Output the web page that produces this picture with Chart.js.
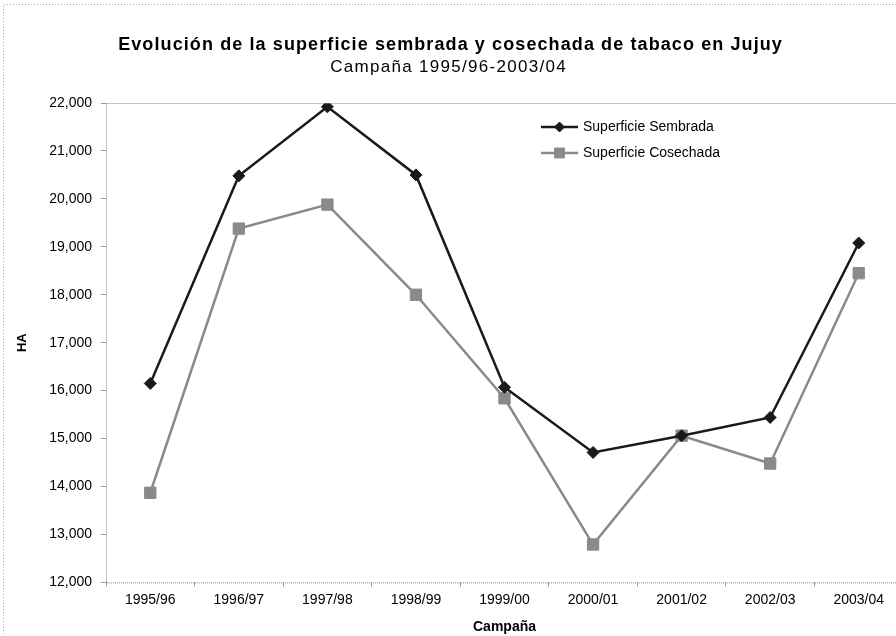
<!DOCTYPE html>
<html>
<head>
<meta charset="utf-8">
<script src="https://cdn.jsdelivr.net/npm/chart.js@4.4.1/dist/chart.umd.min.js"></script>
<style>
  html, body { margin: 0; padding: 0; background: #fff; overflow: hidden; width: 896px; height: 636px; }
  #wrap { position: absolute; left: 0; top: 0; width: 912px; height: 636px; }
</style>
</head>
<body>
<div id="wrap"><canvas id="c" width="912" height="636"></canvas></div>
<script>
const categories = ["1995/96","1996/97","1997/98","1998/99","1999/00","2000/01","2001/02","2002/03","2003/04"];
const sembrada  = [16150, 20480, 21920, 20500, 16070, 14710, 15060, 15440, 19080];
const cosechada = [13870, 19380, 19880, 18000, 15840, 12790, 15060, 14480, 18450];
const yTicks = [12000, 13000, 14000, 15000, 16000, 17000, 18000, 19000, 20000, 21000, 22000];
const titleText = 'Evolución de la superficie sembrada y cosechada de tabaco en Jujuy';
const subtitleText = 'Campaña 1995/96-2003/04';

const FONT = "'Liberation Sans', Arial, sans-serif";

function spacedText(ctx, text, cx, cy, spacing) {
  // draw centred text with extra letter spacing
  if ('letterSpacing' in ctx) {
    ctx.letterSpacing = spacing + 'px';
    const w = ctx.measureText(text).width - spacing;
    ctx.textAlign = 'left';
    ctx.fillText(text, cx - w / 2, cy);
    ctx.letterSpacing = '0px';
  } else {
    ctx.textAlign = 'center';
    ctx.fillText(text, cx, cy);
  }
}

const framePlugin = {
  id: 'frame',
  beforeDraw(chart) {
    const ctx = chart.ctx;
    ctx.save();
    ctx.fillStyle = '#fff';
    ctx.fillRect(0, 0, chart.width, chart.height);
    ctx.strokeStyle = '#aaa';
    ctx.lineWidth = 1;
    ctx.setLineDash([1, 2]);
    ctx.beginPath();
    ctx.moveTo(3.5, 640); ctx.lineTo(3.5, 4.5); ctx.lineTo(chart.width, 4.5);
    ctx.stroke();
    ctx.restore();
  },
  afterDatasetsDraw(chart) {
    const ctx = chart.ctx;
    const a = chart.chartArea;
    ctx.save();
    ctx.strokeStyle = '#888';
    ctx.lineWidth = 1;
    ctx.setLineDash([1, 1]);
    ctx.strokeRect(Math.round(a.left) + 0.5, Math.round(a.top) + 0.5, a.right - a.left, a.bottom - a.top);
    ctx.restore();
    // titles
    ctx.save();
    ctx.fillStyle = '#000';
    ctx.textBaseline = 'middle';
    ctx.font = "bold 18px " + FONT;
    spacedText(ctx, titleText, 450, 45, 1.1);
    ctx.font = "17px " + FONT;
    spacedText(ctx, subtitleText, 448, 67, 1.3);
    ctx.restore();
    // legend
    const items = chart.data.datasets;
    ctx.save();
    ctx.font = "14px " + FONT;
    ctx.textBaseline = 'middle';
    items.forEach((ds, i) => {
      const y = 127 + i * 26;
      const x0 = 541, x1 = 578, xm = (x0 + x1) / 2;
      ctx.strokeStyle = ds.borderColor;
      ctx.lineWidth = ds.borderWidth;
      ctx.beginPath(); ctx.moveTo(x0, y); ctx.lineTo(x1, y); ctx.stroke();
      ctx.fillStyle = ds.pointBackgroundColor;
      ctx.strokeStyle = ds.pointBorderColor;
      ctx.lineWidth = 1;
      Chart.helpers.drawPoint(ctx, {pointStyle: ds.pointStyle, radius: ds.pointRadius - 1, borderWidth: 1}, xm, y);
      ctx.fillStyle = '#000';
      ctx.textAlign = 'left';
      ctx.fillText(ds.label, 583, y);
    });
    ctx.restore();
  }
};

new Chart(document.getElementById('c'), {
  type: 'line',
  data: {
    labels: categories,
    datasets: [
      {
        label: 'Superficie Sembrada',
        data: sembrada,
        borderColor: '#1a1a1a',
        backgroundColor: '#1a1a1a',
        pointBackgroundColor: '#1a1a1a',
        pointBorderColor: '#1a1a1a',
        borderWidth: 2.5,
        pointStyle: 'rectRot',
        pointRadius: 6,
        pointBorderWidth: 1,
        tension: 0
      },
      {
        label: 'Superficie Cosechada',
        data: cosechada,
        borderColor: '#8a8a8a',
        backgroundColor: '#8a8a8a',
        pointBackgroundColor: '#8a8a8a',
        pointBorderColor: '#8a8a8a',
        borderWidth: 2.5,
        pointStyle: 'rect',
        pointRadius: 8,
        pointBorderWidth: 1,
        tension: 0
      }
    ]
  },
  options: {
    responsive: false,
    animation: false,
    devicePixelRatio: 1,
    layout: { padding: { left: 0, right: 2, top: 103, bottom: 0 } },
    plugins: {
      legend: { display: false },
      tooltip: { enabled: false },
      title: { display: false },
      subtitle: { display: false }
    },
    scales: {
      x: {
        type: 'category',
        offset: true,
        grid: { display: true, drawOnChartArea: false, drawTicks: true, tickLength: 4, offset: true, color: '#999' },
        border: { display: false },
        ticks: { color: '#000', font: { family: FONT, size: 14 }, padding: 5, maxRotation: 0, autoSkip: false },
        title: { display: true, text: 'Campaña', color: '#000', font: { family: FONT, size: 14, weight: 'bold' }, padding: { top: 6, bottom: 0 } }
      },
      y: {
        min: 12000,
        max: 22000,
        afterBuildTicks(scale) { scale.ticks = yTicks.map(v => ({ value: v })); },
        afterFit(scale) { scale.width = 106; },
        grid: { display: true, drawOnChartArea: false, drawTicks: true, tickLength: 5, color: '#999' },
        border: { display: false },
        ticks: {
          color: '#000',
          font: { family: FONT, size: 14 },
          padding: 9,
          callback: v => v.toLocaleString('en-US')
        },
        title: { display: true, text: 'HA', color: '#000', font: { family: FONT, size: 13, weight: 'bold' }, padding: { top: 15, bottom: 0 } }
      }
    }
  },
  plugins: [framePlugin]
});
</script>
</body>
</html>
